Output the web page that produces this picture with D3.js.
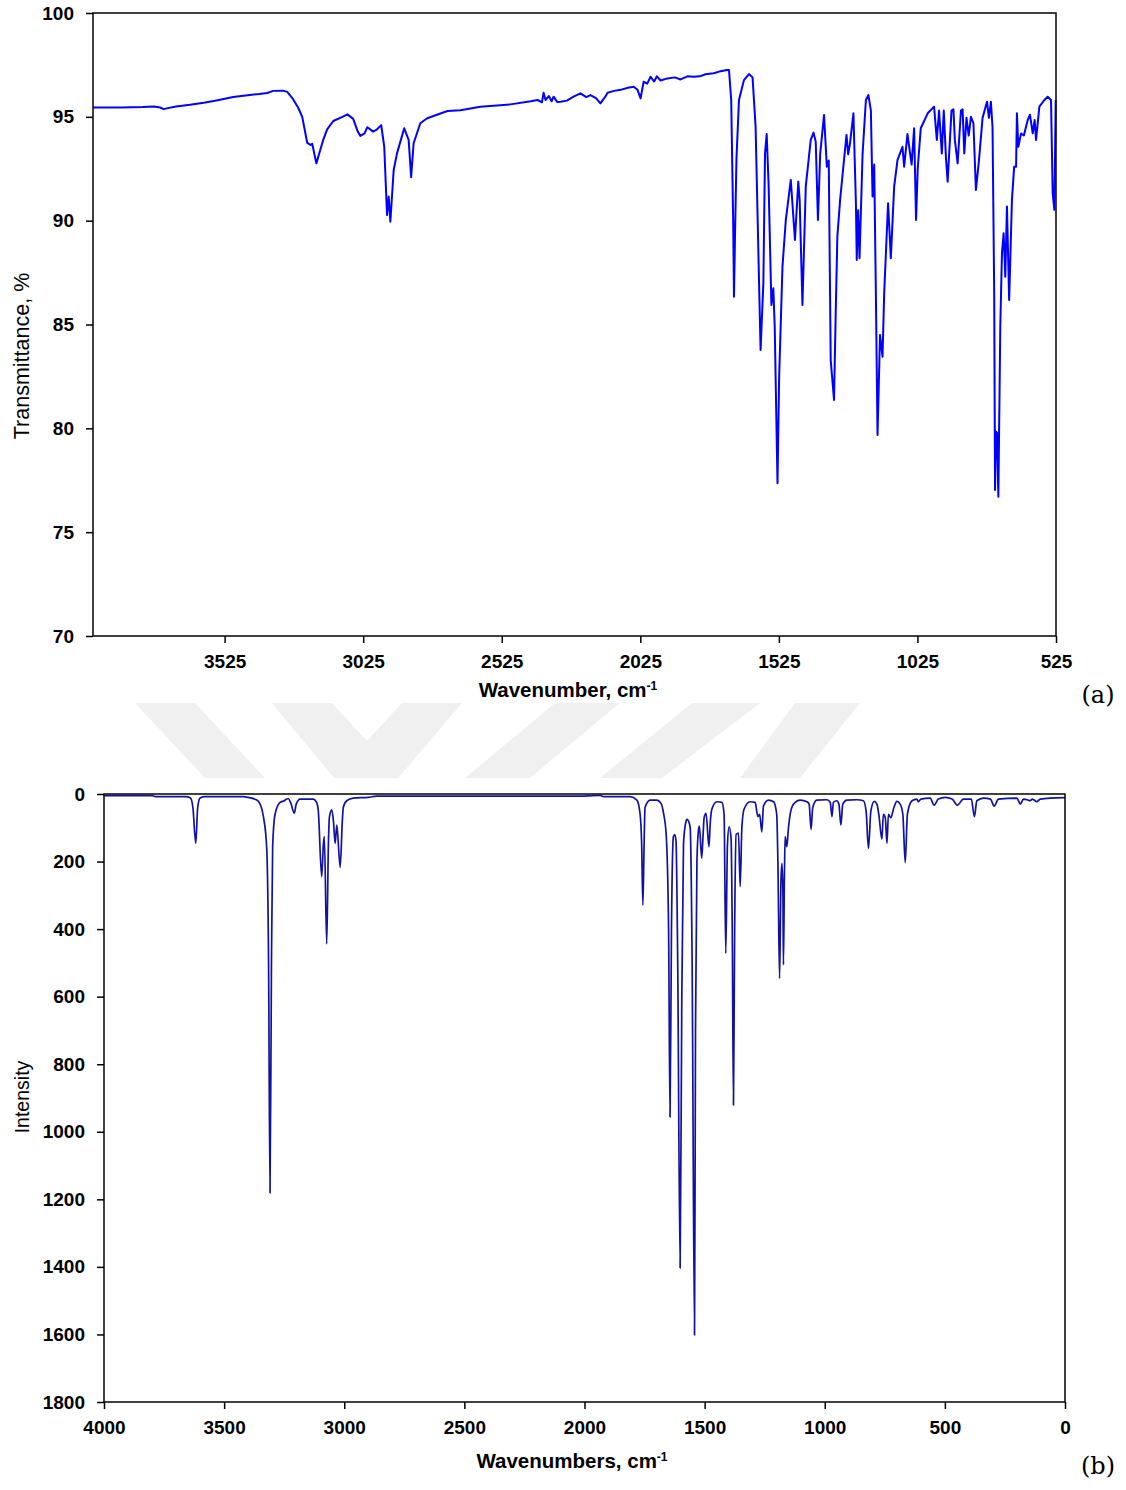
<!DOCTYPE html>
<html lang="en">
<head>
<meta charset="UTF-8">
<title>FT-IR spectra</title>
<script src="https://cdn.jsdelivr.net/npm/d3@7/dist/d3.min.js"></script>
<style>
  body { margin: 0; background: #fff; }
  .axis text { font-family: "Liberation Sans", Arial, sans-serif; font-weight: bold; font-size: 19px; fill: #000; }
  .axis path, .axis line { stroke: #000; stroke-width: 1.5px; }
  .title { font-family: "Liberation Sans", Arial, sans-serif; font-size: 19px; fill: #000; }
  .tag { font-family: "DejaVu Serif", "Liberation Serif", serif; font-size: 24px; fill: #000; }
  .line { fill: none; }
</style>
</head>
<body>
<script>
// (a) experimental FT-IR spectrum: [wavenumber cm-1, transmittance %]
var spectrumA = [
  [4000, 95.45], [3900, 95.45], [3820, 95.47], [3780, 95.5], [3758, 95.45], [3745, 95.37],
  [3730, 95.42], [3700, 95.5], [3650, 95.58], [3600, 95.68], [3550, 95.8], [3494, 95.95],
  [3450, 96.03], [3400, 96.1], [3371, 96.15], [3350, 96.25], [3314, 96.26], [3299, 96.2],
  [3278, 95.85], [3260, 95.45], [3245, 95.0], [3227, 93.75], [3215, 93.65], [3209, 93.7],
  [3194, 92.76], [3180, 93.4], [3169, 93.9], [3155, 94.4], [3133, 94.8], [3100, 95.0],
  [3082, 95.12], [3061, 94.9], [3045, 94.3], [3035, 94.08], [3020, 94.2], [3010, 94.5],
  [2989, 94.29], [2975, 94.4], [2960, 94.6], [2949, 93.56], [2939, 90.27], [2933, 91.16],
  [2927, 89.95], [2915, 92.44], [2903, 93.24], [2877, 94.45], [2861, 93.89], [2852, 92.09],
  [2843, 93.73], [2819, 94.69], [2794, 94.93], [2721, 95.28], [2674, 95.32], [2602, 95.49],
  [2494, 95.6], [2420, 95.75], [2396, 95.81], [2380, 95.7], [2374, 96.16], [2367, 95.81],
  [2355, 96.0], [2345, 95.75], [2338, 95.97], [2325, 95.72], [2313, 95.73], [2290, 95.78],
  [2266, 95.97], [2241, 96.13], [2220, 95.95], [2205, 96.05], [2185, 95.9], [2169, 95.65],
  [2150, 96.0], [2143, 96.16], [2120, 96.25], [2096, 96.3], [2070, 96.4], [2049, 96.45],
  [2035, 96.3], [2024, 95.89], [2013, 96.69], [2000, 96.6], [1988, 96.93], [1975, 96.7],
  [1965, 96.95], [1952, 96.75], [1927, 96.85], [1900, 96.9], [1880, 96.8], [1855, 96.95],
  [1833, 96.93], [1810, 96.95], [1790, 97.05], [1760, 97.1], [1735, 97.2], [1712, 97.26],
  [1705, 97.26], [1697, 95.8], [1690, 90.0], [1687, 86.34], [1683, 89.5], [1678, 93.0],
  [1669, 95.81], [1651, 96.77], [1633, 97.06], [1620, 96.9], [1609, 94.53], [1597, 87.3],
  [1591, 83.77], [1581, 87.0], [1575, 93.24], [1569, 94.17], [1562, 91.7], [1552, 85.94],
  [1545, 86.74], [1540, 84.9], [1530, 77.36], [1524, 82.5], [1512, 87.79], [1500, 90.03],
  [1482, 91.96], [1467, 89.07], [1455, 91.88], [1450, 91.0], [1440, 85.94], [1428, 91.64],
  [1410, 93.89], [1400, 94.24], [1392, 93.8], [1384, 90.03], [1376, 93.2], [1362, 95.09],
  [1352, 92.6], [1345, 92.9], [1338, 83.29], [1326, 81.37], [1320, 85.5], [1314, 89.23],
  [1304, 91.0], [1290, 92.92], [1281, 94.13], [1275, 93.2], [1269, 93.65], [1256, 95.17],
  [1247, 90.84], [1244, 88.11], [1239, 90.5], [1234, 88.19], [1223, 93.2], [1211, 95.81],
  [1202, 96.05], [1193, 95.3], [1187, 91.16], [1181, 92.7], [1175, 86.5], [1169, 79.68],
  [1160, 84.5], [1151, 83.45], [1145, 86.5], [1131, 90.84], [1121, 88.19], [1109, 91.64],
  [1097, 92.92], [1079, 93.56], [1073, 92.6], [1061, 94.17], [1046, 92.7], [1037, 94.45],
  [1030, 90.03], [1024, 92.5], [1013, 94.45], [988, 95.17], [965, 95.49], [955, 93.89],
  [947, 95.3], [937, 93.24], [930, 95.3], [922, 93.0], [916, 91.88], [902, 95.3],
  [895, 95.36], [890, 93.89], [880, 92.76], [868, 95.3], [862, 95.36], [856, 93.24],
  [848, 94.95], [840, 94.1], [832, 95.0], [823, 94.7], [814, 91.48], [803, 92.9],
  [790, 94.95], [774, 95.73], [767, 94.95], [760, 95.73], [754, 94.5], [748, 86.5],
  [745, 77.03], [742, 79.84], [738, 79.8], [733, 76.71], [726, 84.9], [720, 88.43],
  [714, 89.39], [708, 87.3], [702, 90.68], [694, 86.18], [684, 91.0], [676, 92.6],
  [669, 92.6], [666, 95.17], [661, 93.56], [651, 94.2], [641, 94.1], [627, 94.85],
  [619, 95.1], [609, 94.21], [602, 94.85], [597, 93.89], [585, 95.49], [567, 95.81],
  [555, 95.97], [543, 95.81], [537, 91.32], [531, 90.52], [526, 95.81]
];

// (b) calculated spectrum: [wavenumber cm-1, intensity]
var spectrumB = [
  [4000, 5], [3800, 5], [3780, 8], [3660, 8], [3640, 12], [3630, 40], [3618, 146], [3610, 40],
  [3600, 12], [3580, 8], [3420, 8], [3400, 10], [3364, 18], [3345, 40], [3337, 65], [3323, 156],
  [3315, 500], [3309, 1181], [3303, 500], [3298, 156], [3288, 60], [3267, 25], [3250, 20],
  [3240, 15], [3233, 14], [3222, 28], [3208, 57], [3200, 30], [3184, 15], [3129, 15], [3115, 25],
  [3108, 50], [3094, 245], [3087, 150], [3083, 126], [3073, 444], [3066, 150], [3062, 70],
  [3052, 47], [3045, 80], [3038, 146], [3031, 92], [3017, 217], [3008, 80], [3004, 40],
  [2990, 20], [2962, 12], [2900, 10], [2865, 6], [2000, 6], [1935, 4], [1920, 8], [1810, 8],
  [1782, 18], [1769, 57], [1762, 150], [1757, 329], [1752, 150], [1748, 40], [1727, 18],
  [1700, 18], [1680, 30], [1671, 57], [1660, 120], [1650, 400], [1644, 956], [1638, 400],
  [1630, 126], [1624, 120], [1619, 140], [1612, 500], [1602, 1403], [1595, 600], [1588, 150],
  [1580, 90], [1574, 75], [1567, 80], [1560, 100], [1552, 500], [1542, 1602], [1538, 700],
  [1532, 200], [1526, 110], [1522, 95], [1512, 190], [1506, 115], [1502, 70], [1494, 57],
  [1482, 156], [1476, 80], [1470, 45], [1449, 23], [1428, 25], [1419, 60], [1412, 472],
  [1405, 150], [1398, 97], [1390, 130], [1385, 400], [1380, 921], [1375, 400], [1369, 120],
  [1359, 116], [1352, 274], [1345, 100], [1336, 45], [1311, 23], [1290, 25], [1278, 67],
  [1271, 60], [1262, 112], [1255, 35], [1234, 18], [1213, 23], [1200, 60], [1195, 200],
  [1188, 546], [1182, 250], [1178, 205], [1174, 300], [1172, 506], [1168, 250], [1165, 126],
  [1158, 156], [1151, 100], [1144, 60], [1130, 30], [1102, 18], [1074, 23], [1065, 30],
  [1057, 105], [1050, 40], [1033, 18], [991, 17], [977, 25], [970, 67], [964, 25], [950, 20],
  [941, 30], [933, 92], [925, 30], [908, 18], [866, 17], [839, 20], [828, 50], [818, 161],
  [808, 50], [794, 22], [783, 30], [775, 60], [762, 134], [756, 60], [748, 70], [741, 146],
  [735, 60], [725, 70], [712, 40], [700, 22], [686, 30], [675, 60], [665, 203], [656, 60],
  [637, 20], [617, 15], [610, 23], [600, 15], [561, 12], [545, 33], [527, 15], [499, 10],
  [470, 15], [448, 33], [423, 15], [390, 15], [377, 67], [367, 20], [339, 12], [310, 15],
  [295, 36], [277, 15], [200, 12], [186, 30], [173, 15], [157, 17], [145, 20], [136, 15],
  [117, 23], [103, 15], [62, 12], [0, 11]
];

var ticksAX = [3525, 3025, 2525, 2025, 1525, 1025, 525];
var ticksAY = [70, 75, 80, 85, 90, 95, 100];
var ticksBX = [4000, 3500, 3000, 2500, 2000, 1500, 1000, 500, 0];
var ticksBY = [0, 200, 400, 600, 800, 1000, 1200, 1400, 1600, 1800];

var W = 1126, H = 1490;
var svg = d3.select("body").append("svg")
    .attr("width", W)
    .attr("height", H);

// faint watermark band between the two panels
var marks = [
  [[135, 703], [195, 703], [265, 778], [205, 778]],
  [[272, 703], [332, 703], [367, 741], [402, 703], [462, 703], [398, 778], [334, 778]],
  [[555, 703], [620, 703], [530, 778], [465, 778]],
  [[692, 703], [760, 703], [662, 778], [600, 778]],
  [[795, 703], [860, 703], [800, 778], [740, 778]]
];
svg.append("g").selectAll("polygon")
    .data(marks)
    .enter().append("polygon")
    .attr("points", function(d) { return d.join(" "); })
    .style("fill", "#f0f0f0");

function panel(opt) {
    var g = svg.append("g");
    var x = d3.scaleLinear().domain(opt.xDomain).range([opt.left, opt.right]);
    var y = d3.scaleLinear().domain(opt.yDomain).range([opt.bottom, opt.top]);

    var line = d3.line()
        .x(function(d) { return x(d[0]); })
        .y(function(d) { return y(d[1]); })
        .curve(opt.curve);

    g.append("path")
        .datum(opt.data)
        .attr("class", "line")
        .style("stroke", opt.color)
        .style("stroke-width", opt.width)
        .style("stroke-linejoin", "round")
        .attr("d", line);

    // frame
    g.append("rect")
        .attr("x", opt.left).attr("y", opt.top)
        .attr("width", opt.right - opt.left).attr("height", opt.bottom - opt.top)
        .style("fill", "none").style("stroke", "#111").style("stroke-width", 1.6);

    g.append("g")
        .attr("class", "axis")
        .attr("transform", "translate(0," + opt.bottom + ")")
        .call(d3.axisBottom(x).tickValues(opt.xTicks).tickSize(7).tickSizeOuter(0).tickPadding(12).tickFormat(d3.format("d")));

    g.append("g")
        .attr("class", "axis")
        .attr("transform", "translate(" + opt.left + ",0)")
        .call(d3.axisLeft(y).tickValues(opt.yTicks).tickSize(7).tickSizeOuter(0).tickPadding(12).tickFormat(d3.format("d")));

    g.selectAll(".axis .domain").remove();

    // x title with superscript
    var xt = g.append("text")
        .attr("class", "title")
        .attr("x", opt.xTitleX).attr("y", opt.xTitleY)
        .style("text-anchor", "middle")
        .style("font-weight", "bold")
        .style("font-size", "20.5px")
        .text(opt.xTitle);
    xt.append("tspan").attr("dy", -7).style("font-size", "12px").text("-1");

    g.append("text")
        .attr("class", "title")
        .attr("transform", "translate(" + opt.yTitleX + "," + opt.yTitleY + ") rotate(-90)")
        .style("text-anchor", "middle")
        .style("font-size", opt.yTitleSize)
        .text(opt.yTitle);

    g.append("text")
        .attr("class", "tag")
        .attr("x", 1098).attr("y", opt.tagY)
        .style("text-anchor", "middle")
        .text(opt.tag);
}

panel({
    data: spectrumA, xDomain: [4000, 525], yDomain: [70, 100],
    left: 93, right: 1056, top: 13, bottom: 636,
    xTicks: ticksAX, yTicks: ticksAY,
    color: "#0000ff", width: 2, curve: d3.curveLinear,
    xTitle: "Wavenumber, cm", xTitleX: 568, xTitleY: 697,
    yTitle: "Transmittance, %", yTitleX: 29, yTitleY: 356, yTitleSize: "21.5px",
    tag: "(a)", tagY: 703
});

panel({
    data: spectrumB, xDomain: [4000, 0], yDomain: [1800, 0],
    left: 104, right: 1065, top: 794, bottom: 1402,
    xTicks: ticksBX, yTicks: ticksBY,
    color: "#1212a2", width: 1.7, curve: d3.curveMonotoneX,
    xTitle: "Wavenumbers, cm", xTitleX: 572, xTitleY: 1468,
    yTitle: "Intensity", yTitleX: 29, yTitleY: 1097, yTitleSize: "19.5px",
    tag: "(b)", tagY: 1474
});
</script>
</body>
</html>
